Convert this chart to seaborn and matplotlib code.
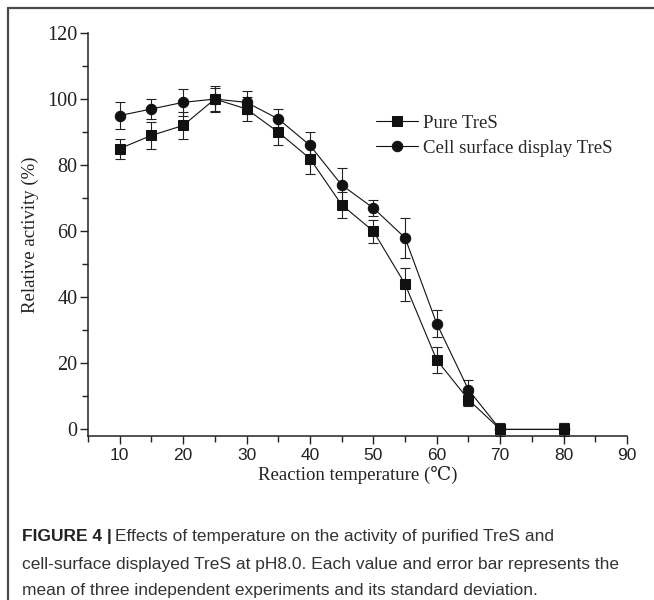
import numpy as np
import pandas as pd
import matplotlib
matplotlib.use('Agg')
import matplotlib.pyplot as plt
from matplotlib.lines import Line2D
from matplotlib.ticker import MultipleLocator
import seaborn as sns

# Data (temperature in C, relative activity in %)
temps = [10, 15, 20, 25, 30, 35, 40, 45, 50, 55, 60, 65, 70, 80]
pure_mean = [85, 89, 92, 100, 97, 90, 82, 68, 60, 44, 21, 9, 0, 0]
pure_sd = [3, 4, 4, 3.5, 3.5, 4, 4.7, 4, 3.5, 5, 3.8, 2, 1.5, 2]
cell_mean = [95, 97, 99, 100, 99, 94, 86, 74, 67, 58, 32, 12, 0, 0]
cell_sd = [4, 3, 4, 4, 3.5, 3, 4, 5, 2.5, 6, 4, 3, 2, 2]
series_names = ['Pure TreS', 'Cell surface display TreS']

df = pd.concat([
    pd.DataFrame({'temp': temps, 'activity': pure_mean, 'sd': pure_sd, 'series': series_names[0]}),
    pd.DataFrame({'temp': temps, 'activity': cell_mean, 'sd': cell_sd, 'series': series_names[1]}),
], ignore_index=True)

sns.set_style('ticks')
serif = ['Liberation Serif', 'DejaVu Serif']
sans = ['Liberation Sans', 'DejaVu Sans']

fig = plt.figure(figsize=(6.54, 6.0), dpi=100)
ax = fig.add_axes([88 / 654, 1 - 436 / 600, (627 - 88) / 654, (436 - 33) / 600])

markers = {series_names[0]: 's', series_names[1]: 'o'}
sizes = {series_names[0]: 6.5, series_names[1]: 7.5}
for name in series_names:
    sub = df[df['series'] == name]
    ax.errorbar(sub['temp'], sub['activity'], yerr=sub['sd'], fmt='none',
                ecolor='#222222', elinewidth=0.8, capsize=3.5, capthick=0.8, zorder=2)
    sns.lineplot(data=sub, x='temp', y='activity', ax=ax, color='#111111',
                 marker=markers[name], markersize=sizes[name], markeredgecolor='#111111',
                 linewidth=0.8, label=name, zorder=3)

ax.set_xlim(5, 90)
ax.set_ylim(-2, 120)
ax.xaxis.set_minor_locator(MultipleLocator(5))
ax.yaxis.set_minor_locator(MultipleLocator(10))
ax.set_xticks(range(10, 91, 10))
ax.set_xticklabels([str(t) for t in range(10, 91, 10)], family=sans, fontsize=12.5, color='#222222')
ax.set_yticks(range(0, 121, 20))
ax.set_yticklabels([str(t) for t in range(0, 121, 20)], family=serif, fontsize=14.5, color='#222222')
ax.tick_params(which='major', direction='out', length=5.5, width=1, color='#222222')
ax.tick_params(which='minor', direction='out', length=4.5, width=1, color='#222222')
ax.tick_params(axis='y', which='major', pad=2)
ax.tick_params(axis='x', which='major', pad=3)
for side in ['top', 'right']:
    ax.spines[side].set_visible(False)
for side in ['left', 'bottom']:
    ax.spines[side].set_linewidth(1.1)
    ax.spines[side].set_color('#222222')

ax.set_xlabel('Reaction temperature (\u2103)', family=serif, fontsize=13.5, color='#222222', labelpad=2)
ax.set_ylabel('Relative activity (%)', family=serif, fontsize=13.5, color='#222222', labelpad=6)

handles, labels = ax.get_legend_handles_labels()
ax.legend(handles, labels, loc='upper left', bbox_to_anchor=(0.534, 0.797), frameon=False,
          prop={'family': serif, 'size': 13.5}, handlelength=2.25, handletextpad=0.28,
          labelspacing=0.36, borderpad=0, borderaxespad=0)

# Outer frame lines (top and left)
fig.add_artist(Line2D([8 / 654, 1.0], [1 - 8 / 600, 1 - 8 / 600], color='#4a4a4a', lw=1.6))
fig.add_artist(Line2D([8 / 654, 8 / 654], [0, 1 - 8 / 600], color='#4a4a4a', lw=1.6))

# Caption
cap_x = 22 / 654
cap_color = '#333333'
cap_size = 12.5
bold = fig.text(cap_x, 1 - 537 / 600, 'FIGURE 4 |', family=sans, fontsize=cap_size,
                fontweight='bold', color='#222222', va='center')
fig.canvas.draw()
bb = bold.get_window_extent(fig.canvas.get_renderer())
fig.text(bb.x1 / fig.bbox.width + 3 / 654, 1 - 537 / 600,
         'Effects of temperature on the activity of purified TreS and',
         family=sans, fontsize=cap_size, color=cap_color, va='center')
fig.text(cap_x, 1 - 564 / 600,
         'cell-surface displayed TreS at pH8.0. Each value and error bar represents the',
         family=sans, fontsize=cap_size, color=cap_color, va='center')
fig.text(cap_x, 1 - 590 / 600,
         'mean of three independent experiments and its standard deviation.',
         family=sans, fontsize=cap_size, color=cap_color, va='center')

fig.savefig('out.png', dpi=100)
